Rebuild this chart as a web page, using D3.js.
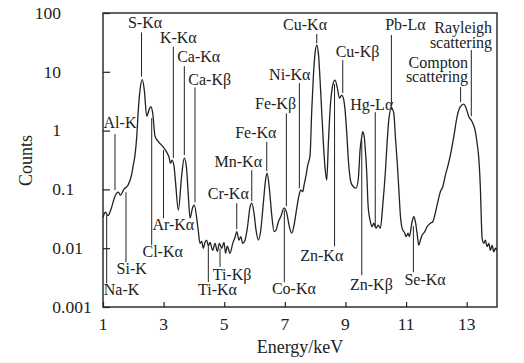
<!DOCTYPE html>
<html>
 <head>
 <title>XRF spectrum</title>
 <meta charset="UTF-8">
 <style type="text/css">
   body { margin: 0; background: #fff; }
   text { font-family: "Liberation Serif", "Times New Roman", serif; fill: #222; }
 </style>
 <script src="https://d3js.org/d3.v7.min.js"></script>
 </head>
 <body>
 <script type="text/javascript">

    // spectrum
    var energy = [1.00,1.083,1.165,1.264,1.396,1.505,1.578,1.693,1.825,1.941,2.000,2.056,2.112,2.165,2.221,2.297,2.363,2.442,2.518,2.574,
        2.640,2.716,2.825,2.990,3.102,3.178,3.228,3.277,3.343,3.393,3.485,3.597,3.680,3.749,3.815,3.871,3.960,4.013,4.092,4.145,
        4.201,4.257,4.310,4.366,4.422,4.475,4.531,4.620,4.696,4.772,4.838,4.917,4.993,5.043,5.102,5.191,5.281,5.356,5.413,5.488,
        5.545,5.611,5.686,5.762,5.851,5.908,5.983,6.050,6.125,6.205,6.290,6.363,6.413,6.488,6.568,6.644,6.710,6.786,6.865,6.974,
        7.063,7.149,7.228,7.304,7.393,7.469,7.525,7.591,7.634,7.700,7.756,7.832,7.888,7.941,7.997,8.053,8.106,8.185,8.271,8.327,
        8.383,8.436,8.492,8.581,8.657,8.733,8.799,8.878,8.931,8.987,9.043,9.096,9.175,9.261,9.350,9.426,9.482,9.531,9.571,9.620,
        9.657,9.703,9.746,9.822,9.878,9.934,10.010,10.076,10.152,10.231,10.317,10.373,10.429,10.515,10.594,10.647,10.703,10.759,10.812,10.868,
        10.957,11.000,11.066,11.109,11.198,11.254,11.307,11.363,11.419,11.472,11.528,11.617,11.693,11.802,11.881,11.947,12.023,12.132,12.211,12.297,
        12.386,12.462,12.574,12.683,12.792,12.904,12.980,13.069,13.178,13.287,13.343,13.399,13.452,13.485,13.508,13.564,13.617,13.673,13.729,13.782,
        13.838,13.894,13.947,13.987];
    var counts = [0.0337,0.0409,0.0357,0.0461,0.0767,0.0897,0.0798,0.101,0.118,0.175,0.258,0.383,0.774,2.23,4.89,7.38,4.89,1.76,2.23,2.56,
        1.99,0.805,0.649,0.524,0.430,0.354,0.279,0.314,0.248,0.133,0.0443,0.175,0.340,0.248,0.0798,0.0324,0.0498,0.0539,0.0324,0.0195,
        0.0121,0.0131,0.00998,0.0126,0.0137,0.0108,0.0126,0.00923,0.0121,0.00888,0.0121,0.00998,0.0126,0.00821,0.0108,0.00821,0.0121,0.0154,0.0191,0.0137,
        0.0157,0.0121,0.0137,0.0219,0.0498,0.0583,0.0394,0.0202,0.0137,0.0202,0.0583,0.144,0.189,0.105,0.0364,0.0191,0.0202,0.0282,0.0343,0.0479,
        0.0394,0.0232,0.0180,0.0246,0.0479,0.0798,0.0970,0.0915,0.118,0.175,0.258,0.383,2.23,8.30,20.8,28.5,20.8,4.35,0.612,0.230,
        0.144,0.612,2.23,5.95,7.23,5.29,3.57,4.02,3.57,2.23,0.906,0.314,0.135,0.111,0.105,0.155,0.466,0.745,0.961,0.774,
        0.466,0.189,0.0539,0.0282,0.0232,0.0266,0.0219,0.0246,0.0219,0.0539,0.200,0.612,1.51,2.41,1.99,0.790,0.314,0.105,0.0364,0.0219,
        0.0180,0.0157,0.0180,0.0157,0.0282,0.0343,0.0282,0.0180,0.0112,0.0137,0.0166,0.0191,0.0232,0.0266,0.0282,0.0364,0.0539,0.0915,0.111,0.175,
        0.258,0.383,0.790,1.73,2.56,2.82,2.41,1.73,1.42,0.961,0.612,0.340,0.105,0.0282,0.0148,0.0121,0.0137,0.0106,0.0121,0.00923,
        0.0112,0.00871,0.00998,0.00923];

    var xTicks = [1, 3, 5, 7, 9, 11, 13];
    var yTicks = [0.001, 0.01, 0.1, 1, 10, 100];
    var yTickLabels = ["0.001", "0.01", "0.1", "1", "10", "100"];

    // peak annotations: line energy, line top/bottom (counts), label position
    var peakNames = ["Na-K","Si-K","Al-K","S-Kα","Cl-Kα","K-Kα","Ar-Kα","Ca-Kα","Ca-Kβ","Ti-Kα","Ti-Kβ","Cr-Kα","Mn-Kα",
        "Fe-Kα","Fe-Kβ","Co-Kα","Ni-Kα","Cu-Kα","Cu-Kβ","Zn-Kα","Zn-Kβ","Hg-Lα","Pb-Lα","Se-Kα",
        "Compton\nscattering","Rayleigh\nscattering"];
    var lineE = [1.122,1.759,1.396,2.271,2.607,3.320,2.997,3.683,4.036,4.475,4.861,5.413,5.908,
        6.403,7.050,6.983,7.479,8.053,8.911,8.640,9.538,9.983,10.515,11.241,12.799,13.152];
    var lineTop = [0.0364,0.0897,0.871,46.6,1.63,26.7,0.466,12.5,5.43,0.0105,0.00987,0.0583,0.212,
        0.644,1.96,0.0443,6.43,43.9,15.8,6.18,0.689,2.06,42.2,0.0237,5.50,23.5];
    var lineBottom = [0.00253,0.00577,0.0970,8.30,0.0112,0.340,0.0324,0.383,0.0606,0.00266,0.00480,0.0210,0.0630,
        0.204,0.0518,0.00263,0.105,30.3,4.35,0.0108,0.00346,0.0237,2.61,0.00390,3.05,1.76];
    var labelE = [1.611,1.947,1.561,2.386,2.970,3.485,3.320,4.158,4.521,4.779,5.257,5.135,5.465,
        6.043,6.693,7.297,7.162,7.667,9.399,8.218,9.855,9.868,10.977,11.627,13.046,13.838];
    var labelC = [0.00163,0.00370,1.09,54.5,0.00710,30.5,0.0202,14.8,5.95,0.00158,0.00285,0.0700,0.242,
        0.736,2.29,0.00169,7.23,51.3,18.0,0.00607,0.00198,2.23,51.3,0.00234,11.8,45.7];

    var margin = {top: 13, right: 27, bottom: 56, left: 103},
        width = 524 - margin.left - margin.right,
        height = 363 - margin.top - margin.bottom;

    var x = d3.scaleLinear().domain([1, 14]).range([0, width]);
    var y = d3.scaleLog().domain([0.001, 100]).range([height, 0]);

    var svg = d3.select("body")
        .append("svg")
        .attr("width", 524)
        .attr("height", 363)
        .append("g")
        .attr("transform", "translate(" + margin.left + "," + margin.top + ")");

    // inner ticks
    svg.append("g")
        .attr("transform", "translate(0," + height + ")")
        .call(d3.axisBottom(x).tickValues(xTicks).tickSize(-5).tickFormat(""))
        .call(function(g) { g.select(".domain").remove(); });
    svg.append("g")
        .call(d3.axisLeft(y).tickValues(yTicks).tickSize(-7).tickFormat(""))
        .call(function(g) { g.select(".domain").remove(); });
    svg.selectAll(".tick line").attr("stroke", "#222").attr("stroke-width", 1.2);

    // frame
    svg.append("rect")
        .attr("width", width)
        .attr("height", height)
        .attr("fill", "none")
        .attr("stroke", "#222")
        .attr("stroke-width", 1.4);

    // x tick labels
    svg.selectAll(".xlab").data(xTicks).enter().append("text")
        .attr("x", function(d) { return x(d); })
        .attr("y", height + 23)
        .attr("text-anchor", "middle")
        .style("font-size", "17.5px")
        .text(function(d) { return d; });

    // y tick labels, lined up on the decimal point
    var yl = svg.selectAll(".ylab").data(yTicks).enter().append("g")
        .attr("transform", function(d) { return "translate(-42," + y(d) + ")"; });
    yl.append("text")
        .attr("text-anchor", "end")
        .attr("dy", "0.33em")
        .style("font-size", "17.5px")
        .text(function(d, i) { return yTickLabels[i].split(".")[0]; });
    yl.append("text")
        .attr("text-anchor", "start")
        .attr("dy", "0.33em")
        .style("font-size", "17.5px")
        .text(function(d, i) { var p = yTickLabels[i].split("."); return p.length > 1 ? "." + p[1] : ""; });

    // axis titles
    svg.append("text")
        .attr("x", width / 2)
        .attr("y", height + 46)
        .attr("text-anchor", "middle")
        .style("font-size", "18px")
        .text("Energy/keV");
    svg.append("text")
        .attr("transform", "translate(-71," + (160.5 - margin.top) + ") rotate(-90)")
        .attr("text-anchor", "middle")
        .style("font-size", "18px")
        .text("Counts");

    // spectrum
    var line = d3.line()
        .x(function(d, i) { return x(energy[i]); })
        .y(function(d, i) { return y(counts[i]); })
        .curve(d3.curveMonotoneX);

    svg.append("path")
        .attr("d", line(energy))
        .attr("fill", "none")
        .attr("stroke", "#222")
        .attr("stroke-width", 1.3)
        .attr("stroke-linejoin", "round");

    // peak markers
    var peaks = peakNames.map(function(n, i) {
        return {name: n, e: lineE[i], top: lineTop[i], bottom: lineBottom[i], le: labelE[i], lc: labelC[i]};
    });

    svg.selectAll(".peakline").data(peaks).enter().append("line")
        .attr("x1", function(d) { return x(d.e); })
        .attr("x2", function(d) { return x(d.e); })
        .attr("y1", function(d) { return y(d.top); })
        .attr("y2", function(d) { return y(d.bottom); })
        .attr("stroke", "#222")
        .attr("stroke-width", 1);

    var lab = svg.selectAll(".peaklabel").data(peaks).enter().append("text")
        .attr("x", function(d) { return x(d.le); })
        .attr("y", function(d) { return y(d.lc); })
        .attr("text-anchor", function(d) { return d.name.indexOf("\n") >= 0 ? "end" : "middle"; })
        .style("font-size", "16px");
    lab.each(function(d) {
        var parts = d.name.split("\n");
        var t = d3.select(this);
        parts.forEach(function(p, k) {
            t.append("tspan")
                .attr("x", x(d.le))
                .attr("dy", k === 0 ? 0 : "0.92em")
                .text(p);
        });
    });

 </script>
 </body>
</html>
